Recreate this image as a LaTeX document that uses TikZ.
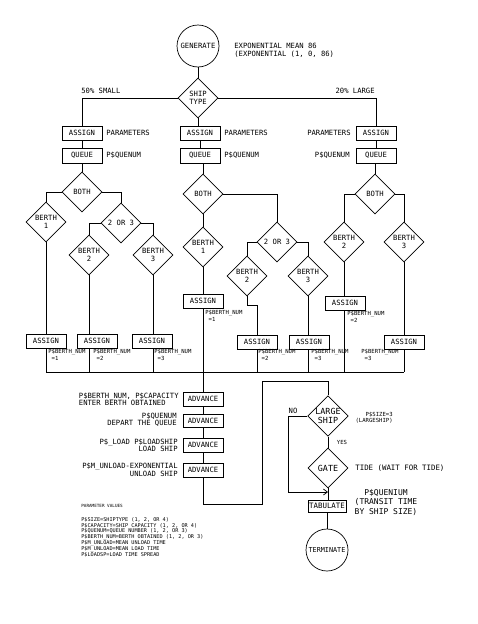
\documentclass[tikz,border=0pt]{standalone}
\usepackage{fontspec}
\setmainfont{DejaVu Sans Mono}
\usetikzlibrary{shapes.geometric,arrows.meta}

\begin{document}
\begin{tikzpicture}[x=1pt,y=-1pt,line width=0.7pt,
  font=\fontsize{7.2}{8}\selectfont,
  blk/.style={draw,minimum width=40pt,minimum height=14pt,inner sep=0pt},
  dec/.style={draw,diamond,minimum width=40pt,minimum height=40pt,
              inner sep=0pt,align=center},
  endpt/.style={draw,circle,minimum size=42pt,inner sep=0pt},
  note/.style={inner sep=0pt,align=left},
  tiny/.style={font=\fontsize{5.6}{6.5}\selectfont}]
  \useasboundingbox (0,0) rectangle (477,624);

  % arrivals and ship type
  \node[endpt] (gen) at (198,46) {GENERATE};
  \node[note,anchor=west] (genlbl) at (234,50)
    {EXPONENTIAL MEAN 86\\(EXPONENTIAL (1, 0, 86)};
  \node[dec] (type) at (198,98) {SHIP\\TYPE};
  \node[note,anchor=south west] (small) at (81,94) {50\% SMALL};
  \node[note,anchor=south east] (large) at (375,94) {20\% LARGE};

  % assign / queue per ship type
  \node[blk] (asgL) at (82,133) {ASSIGN};
  \node[blk,minimum height=15pt] (queL) at (82,155.5) {QUEUE};
  \node[blk] (asgM) at (200,133) {ASSIGN};
  \node[blk,minimum height=15pt] (queM) at (200,155.5) {QUEUE};
  \node[blk] (asgR) at (376,133) {ASSIGN};
  \node[blk,minimum height=15pt] (queR) at (376,155.5) {QUEUE};
  \node[note,anchor=west] (parL) at (106,133) {PARAMETERS};
  \node[note,anchor=west] (qnL) at (106,155) {P\$QUENUM};
  \node[note,anchor=west] (parM) at (224,133) {PARAMETERS};
  \node[note,anchor=west] (qnM) at (224,155) {P\$QUENUM};
  \node[note,anchor=east] (parR) at (351,133) {PARAMETERS};
  \node[note,anchor=east] (qnR) at (350,155) {P\$QUENUM};

  \draw (gen.south) -- (type.north);
  \draw (type.west) -| (asgL.north);
  \draw (type.east) -| (asgR.north);
  \draw (type.south) -- (type.south |- asgM.north);
  \draw (asgL.south) -- (queL.north);
  \draw (asgM.south) -- (queM.north);
  \draw (asgR.south) -- (queR.north);

  % left: small ships
  \node[dec] (bothL) at (82,192) {BOTH};
  \node[dec] (b1L) at (46,222) {BERTH\\1};
  \node[dec] (orL) at (121,223) {2 OR 3};
  \node[dec] (b2L) at (89,255) {BERTH\\2};
  \node[dec] (b3L) at (153,255) {BERTH\\3};
  \node[blk] (aL1) at (46,341) {ASSIGN};
  \node[blk] (aL2) at (97,341) {ASSIGN};
  \node[blk] (aL3) at (152,341) {ASSIGN};
  \node[note,tiny,anchor=north west] (nL1) at (48,349) {P\$BERTH\_NUM\\\ =1};
  \node[note,tiny,anchor=north west] (nL2) at (93,349) {P\$BERTH\_NUM\\\ =2};
  \node[note,tiny,anchor=north west] (nL3) at (154,349) {P\$BERTH\_NUM\\\ =3};

  % middle: medium ships
  \node[dec] (bothM) at (203,194) {BOTH};
  \node[dec] (b1M) at (203,247) {BERTH\\1};
  \node[dec] (orM) at (277,242) {2 OR 3};
  \node[dec] (b2M) at (247,276) {BERTH\\2};
  \node[dec] (b3M) at (308,276) {BERTH\\3};
  \node[blk] (aM1) at (203,301) {ASSIGN};
  \node[blk] (aM2) at (257,342) {ASSIGN};
  \node[blk] (aM3) at (309,342) {ASSIGN};
  \node[note,tiny,anchor=north west] (nM1) at (205,310) {P\$BERTH\_NUM\\\ =1};
  \node[note,tiny,anchor=north west] (nM2) at (258,349) {P\$BERTH\_NUM\\\ =2};
  \node[note,tiny,anchor=north west] (nM3) at (311,349) {P\$BERTH\_NUM\\\ =3};
  \coordinate (kinkM) at (247,305);

  % right: large ships
  \node[dec] (bothR) at (375,194) {BOTH};
  \node[dec] (b2R) at (344,242) {BERTH\\2};
  \node[dec] (b3R) at (404,242) {BERTH\\3};
  \node[blk] (aR2) at (345,303) {ASSIGN};
  \node[blk] (aR3) at (404,342) {ASSIGN};
  \node[note,tiny,anchor=north west] (nR2) at (347,311) {P\$BERTH\_NUM\\\ =2};
  \node[note,tiny,anchor=north west] (nR3) at (361,349) {P\$BERTH\_NUM\\\ =3};

  \coordinate (collL) at (46,372);
  \coordinate (collR) at (404,372);

  \draw (queL.south) -- (bothL.north);
  \draw (bothL.west) -| (b1L.north);
  \draw (bothL.east) -| (orL.north);
  \draw (orL.west) -| (b2L.north);
  \draw (orL.east) -| (b3L.north);
  \draw (b1L.south) -- (aL1.north);
  \draw (b2L.south) -- (b2L.south |- aL2.north);
  \draw (b3L.south) -- (b3L.south |- aL3.north);

  \draw (queM.south -| bothM.north) -- (bothM.north);
  \draw (bothM.south) -- (b1M.north);
  \draw (bothM.east) -| (orM.north);
  \draw (orM.west) -| (b2M.north);
  \draw (orM.east) -| (b3M.north);
  \draw (b1M.south) -- (aM1.north);
  \draw (b2M.south) -- (kinkM) -| (aM2.north);
  \draw (b3M.south) -- (b3M.south |- aM3.north);

  \draw (queR.south -| bothR.north) -- (bothR.north);
  \draw (bothR.west) -| (b2R.north);
  \draw (bothR.east) -| (b3R.north);
  \draw (b2R.south) -- (b2R.south |- aR2.north);
  \draw (b3R.south) -- (aR3.north);

  % berth obtained: join
  \draw (collL) -- (collR);
  \draw (aL1.south) -- (aL1.south |- collL);
  \draw (b2L.south |- aL2.south) -- (b2L.south |- collL);
  \draw (b3L.south |- aL3.south) -- (b3L.south |- collL);
  \draw (aM2.south) -- (aM2.south |- collL);
  \draw (b3M.south |- aM3.south) -- (b3M.south |- collL);
  \draw (b2R.south |- aR2.south) -- (b2R.south |- collL);
  \draw (aR3.south) -- (collR);

  % loading sequence
  \node[blk] (adv1) at (203,399) {ADVANCE};
  \node[blk,minimum height=13pt] (adv2) at (203,420.5) {ADVANCE};
  \node[blk] (adv3) at (203,445) {ADVANCE};
  \node[blk] (adv4) at (203,470) {ADVANCE};
  \node[note,anchor=east,font=\fontsize{7.2}{7.5}\selectfont] (l1) at (179,399.5)
    {P\$BERTH\_NUM, P\$CAPACITY\\ENTER BERTH OBTAINED};
  \node[note,align=right,anchor=east,font=\fontsize{7.2}{7.5}\selectfont] (l2) at (177,419.5)
    {P\$QUENUM\\DEPART THE QUEUE};
  \node[note,align=right,anchor=east,font=\fontsize{7.2}{7.5}\selectfont] (l3) at (178,445.5)
    {P\$\_LOAD P\$LOADSHIP\\LOAD SHIP};
  \node[note,align=right,anchor=east,font=\fontsize{7.2}{7.5}\selectfont] (l4) at (178,470)
    {P\$M\_UNLOAD-EXPONENTIAL\\UNLOAD SHIP};
  \draw (aM1.south) -- (adv1.north);
  \draw (adv1.south) -- (adv2.north);
  \draw (adv2.south) -- (adv3.north);
  \draw (adv3.south) -- (adv4.north);

  % tide gate for large ships
  \coordinate (loopA) at (262,504);
  \coordinate (loopB) at (262,381);
  \node[dec,font=\fontsize{8.4}{9}\selectfont] (lg) at (328,416) {LARGE\\SHIP};
  \node[dec,font=\fontsize{8.4}{9}\selectfont] (gate) at (328,468) {GATE};
  \node[blk,minimum width=38pt,minimum height=12pt,font=\fontsize{7.4}{8}\selectfont]
    (tab) at (327,506) {TABULATE};
  \node[endpt,font=\fontsize{6.8}{8}\selectfont] (term) at (327,550) {TERMINATE};
  \coordinate (noB) at (288,492);
  \draw (adv4.south) |- (loopA) -- (loopB) -| (lg.north);
  \draw (lg.south) -- (gate.north);
  \draw (gate.south) -- (gate.south |- tab.north);
  \draw (lg.west) -| (noB);
  \draw[-{Straight Barb[length=4pt,width=6pt]}] (noB) -- (noB -| gate.south);
  \draw (tab.south -| term.north) -- (term.north);

  \node[note] (no) at (293,411) {NO};
  \node[note,tiny] (yes) at (342,442) {YES};
  \node[note,tiny,align=right,anchor=east] (sz) at (393,417.5) {P\$SIZE=3\\(LARGESHIP)};
  \node[note,anchor=west,font=\fontsize{7.4}{8}\selectfont] (tide) at (355,468)
    {TIDE (WAIT FOR TIDE)};
  \node[note,align=center,font=\fontsize{8}{9.5}\selectfont] (qt) at (386,502)
    {P\$QUENIUM\\(TRANSIT TIME\\BY SHIP SIZE)};

  % parameter list
  \node[note,anchor=west,font=\fontsize{4.3}{5}\selectfont] (pvt) at (81,506)
    {PARAMETER VALUES};
  \node[note,anchor=north west,font=\fontsize{5.2}{5.8}\selectfont] (pv) at (81,517)
    {P\$SIZE=SHIPTYPE (1, 2, OR 4)\\
     P\$CAPACITY=SHIP CAPACITY (1, 2, OR 4)\\
     P\$QUENUM=QUEUE NUMBER (1, 2, OR 3)\\
     P\$BERTH\_NUM=BERTH OBTAINED (1, 2, OR 3)\\
     P\$M\_UNLOAD=MEAN UNLOAD TIME\\
     P\$M\_UNLOAD=MEAN LOAD TIME\\
     P\$LOADSP=LOAD TIME SPREAD};
\end{tikzpicture}
\end{document}
